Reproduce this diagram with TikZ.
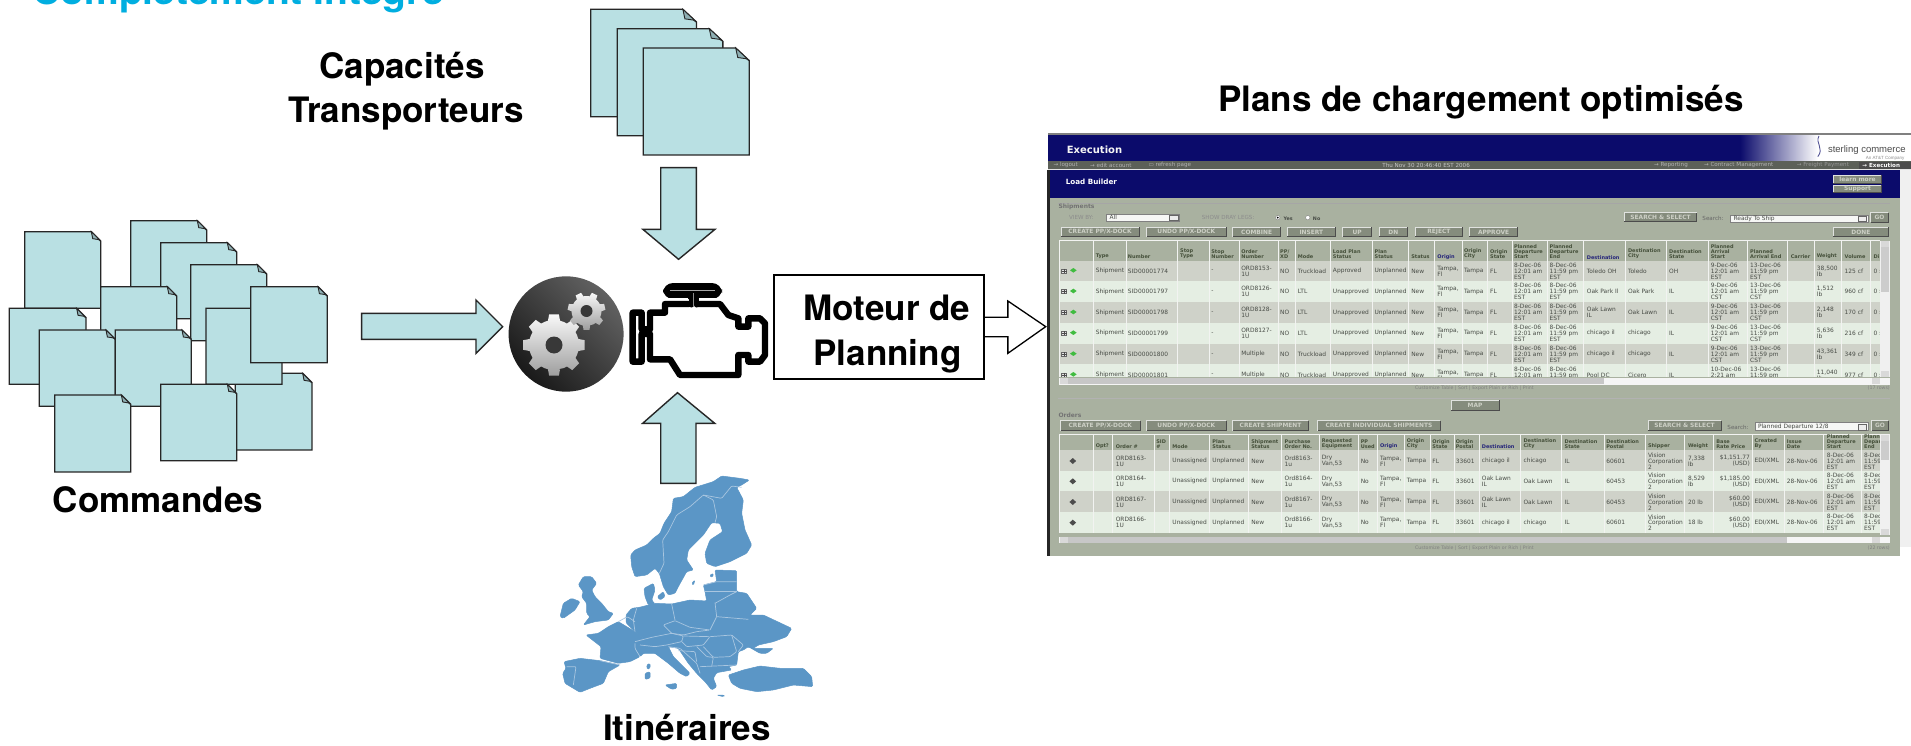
\documentclass[tikz,border=0pt]{standalone}
\usepackage{fontspec}
\setmainfont{TeX Gyre Heros}
\newfontfamily\cellfam{DejaVu Sans}
\newfontfamily\logofam{Liberation Sans}
\definecolor{sheetfill}{HTML}{B9E0E3}
\definecolor{foldfill}{HTML}{8FB0B4}
\definecolor{titleblue}{HTML}{00AEE0}
\definecolor{mapblue}{HTML}{5B96C6}
\definecolor{mapline}{HTML}{A9C6E0}
\definecolor{navy}{HTML}{0B0B6B}
\definecolor{barGray}{HTML}{5C6058}
\definecolor{bodyGray}{HTML}{A9B1A0}
\definecolor{rowA}{HTML}{CFD2C9}
\definecolor{rowB}{HTML}{E5EEE3}
\definecolor{btnGray}{HTML}{858C7D}
\definecolor{btnText}{HTML}{CDD0C6}
\definecolor{headOlive}{HTML}{45503A}
\definecolor{headBlue}{HTML}{25257A}
\definecolor{cellText}{HTML}{474B45}
\tikzset{
  zoomA/.style={shift={(0,200)},x=.33333pt,y=-.33333pt},
  zoomB/.style={shift={(490,0)},x=.35714pt,y=-.33333pt},
  zoomE/.style={shift={(620,290)},x=.33333pt,y=-.33333pt},
  zoomM/.style={shift={(540,400)},x=.33333pt,y=-.33333pt},
  zoomT/.style={shift={(1040,120)},x=.55556pt,y=-.33333pt},
  zoomU/.style={shift={(1040,380)},x=.55556pt,y=-.33333pt},
  sheet/.style={fill=sheetfill,draw=black!85,line width=1.3pt,line join=miter},
  sheetfold/.style={fill=foldfill,draw=black!85,line width=.9pt},
  blockarrow/.style={fill=sheetfill,draw=black!85,line width=1.4pt,line join=miter},
  bigtext/.style={font=\fontsize{35}{35}\bfseries\selectfont,anchor=base,inner sep=0pt,text=black},
  tcell/.style={font=\cellfam\fontsize{5.9}{5.9}\selectfont,text=cellText,anchor=west,align=left,inner sep=0pt},
  thead/.style={font=\cellfam\bfseries\fontsize{5}{5}\selectfont,text=headOlive,anchor=south west,align=left,inner sep=0pt},
  theadb/.style={font=\cellfam\bfseries\fontsize{5}{5}\selectfont,text=headBlue,anchor=south west,align=left,inner sep=0pt},
  uilabel/.style={font=\cellfam\fontsize{5.6}{5.6}\selectfont,text=#1,anchor=west,inner sep=0pt},
  uilabel/.default=barGray,
  engineline/.style={draw=black,line width=6.4pt,line join=round,line cap=round},
  mapshape/.style={fill=mapblue,draw=mapblue,line width=.5pt,line join=round,rounded corners=1.2pt},
  mapborder/.style={draw=mapline,line width=.7pt,line join=round,rounded corners=1pt}
}
\newcommand{\docsheet}[5]{% left, top, right, bottom, fold
  \draw[sheet] (#1,#2) -- (#3-#5,#2) -- (#3,#2+#5) -- (#3,#4) -- (#1,#4) -- cycle;
  \draw[sheetfold] (#3-#5,#2) -- (#3,#2+#5) -- (#3-.22*#5,#2+.85*#5) -- (#3-.85*#5,#2+.75*#5) -- cycle;
}
\newcommand{\cellsAt}[2]{\foreach \px/\txt in {#2} {\node[tcell,name=cell\px y#1] at (\px,#1) {\txt};}}
\newcommand{\headsAt}[3]{\foreach \px/\txt in {#3} {\node[#2,name=head\px y#1] at (\px,#1) {\txt};}}
\newcommand{\uibutton}[6][]{% [text] name l t r b
  \fill[btnGray] (#3,#4) rectangle (#5,#6);
  \draw[white!75!btnGray,line width=.6pt] (#3,#6) -- (#3,#4) -- (#5,#4);
  \draw[black!70,line width=.8pt] (#3,#6) -- (#5,#6) -- (#5,#4);
  \node[font=\cellfam\bfseries\fontsize{5.9}{5.9}\selectfont,text=btnText,inner sep=0pt,name=#2] at ({(#3+#5)/2},{(#4+#6)/2}) {#1};
}
\newcommand{\geargear}[5]{% cx cy outer inner n
  \begin{scope}[shift={(#1,#2)}]
  \shade[top color=white!95!gray,bottom color=black!38] (90:#4)
   \foreach \k in {1,...,#5} { \pgfextra{\pgfmathsetmacro{\aa}{90+(\k-1)*360/#5}}
     -- (\aa-14:#4) -- (\aa-9:#3) -- (\aa+9:#3) -- (\aa+14:#4) -- (\aa+360/#5/2:#4) } -- cycle;
  \end{scope}
}
\begin{document}
\begin{tikzpicture}[x=1pt,y=-1pt]
\useasboundingbox (0,0) rectangle (1911,746);
\clip (0,0) rectangle (1911,746);
\fill[white] (0,0) rectangle (1911,746);

% ---------- titles
\node[font=\fontsize{39}{39}\bfseries\selectfont,text=titleblue,anchor=base west,inner sep=0pt,name=title] at (32,5) {Complètement Intégré};
\node[bigtext,name=capa] at (402,79) {Capacités};
\node[bigtext,name=trans] at (406,123) {Transporteurs};
\node[bigtext,name=plans] at (1481,112) {Plans de chargement optimisés};
\node[bigtext,name=comm] at (158,512) {Commandes};
\node[bigtext,name=itin] at (687,740) {Itinéraires};

% ---------- orders pile
\begin{scope}[zoomA]
\docsheet{74}{95}{302}{325}{28}
\docsheet{392}{62}{620}{290}{28}
\docsheet{482}{128}{710}{356}{28}
\docsheet{572}{194}{800}{422}{28}
\docsheet{302}{260}{530}{490}{28}
\docsheet{28}{325}{258}{553}{28}
\docsheet{706}{520}{936}{750}{28}
\docsheet{618}{325}{846}{553}{1}
\docsheet{752}{260}{982}{488}{28}
\docsheet{118}{390}{346}{619}{28}
\docsheet{346}{390}{574}{619}{28}
\docsheet{164}{585}{392}{816}{28}
\docsheet{482}{553}{710}{782}{28}
\draw[blockarrow] (1085,340) -- (1428,340) -- (1428,300) -- (1508,380) -- (1428,460) -- (1428,418) -- (1085,418) -- cycle;
\end{scope}

% ---------- carrier pile, arrows, box
\begin{scope}[zoomB]
\docsheet{282}{28}{578}{350}{38}
\docsheet{356}{86}{652}{407}{38}
\docsheet{429}{144}{726}{465}{38}
\draw[blockarrow] (478,503) -- (578,503) -- (578,688) -- (630,688) -- (528,778) -- (428,688) -- (478,688) -- cycle;
\draw[fill=white,draw=black,line width=1.3pt] (1300,952) -- (1450,952) -- (1450,903) -- (1556,980) -- (1450,1060) -- (1450,1010) -- (1300,1010) -- cycle;
\draw[fill=white,draw=black,line width=1.8pt] (795,825) rectangle (1383,1137);
% gears circle
\shade[top color=black!62,bottom color=black!90,shading angle=-45] (213,1002) ellipse [x radius=161,y radius=173];
\end{scope}
\node[bigtext,name=moteur] at (887,320) {Moteur de};
\node[bigtext,name=planning] at (887.5,365) {Planning};
\draw[blockarrow] (677.5,392.7) -- (714.7,423.3) -- (696,423.3) -- (696,483.3) -- (660.7,483.3) -- (660.7,423.3) -- (642.7,423.3) -- cycle;

% gears
\geargear{554}{345}{31}{25}{8}
\geargear{586.5}{311}{19}{15}{7}
\fill[black!78] (554,345) circle (8.5);
\fill[black!78] (586.5,311) circle (6);

% ---------- engine icon
\begin{scope}[zoomE]
\fill[black,rounded corners=10pt] (129,-21) rectangle (306,27);
\draw[black!35,line width=.8pt] (150,0) -- (285,0);
\draw[engineline] (207,42) -- (135,42) -- (135,68) -- (90,68) -- (90,118) -- (65,118) -- (65,68) -- (38,68) -- (38,215) -- (65,215) -- (65,132) -- (90,132) -- (90,208) -- (150,208) -- (180,255) -- (355,255) -- (355,195) -- (385,195) -- (385,215) -- (420,215) -- (435,195) -- (435,100) -- (420,85) -- (385,85) -- (385,110) -- (355,110) -- (355,85) -- (325,75) -- (300,42) -- (232,42);
\fill[white] (142,25) rectangle (205,31);
\fill[white] (238,25) rectangle (295,31);
\draw[engineline,line width=5pt] (213,12) -- (213,45);
\draw[engineline,line width=5pt] (230,12) -- (230,45);
\draw[black!45,line width=.7pt] (221,10) -- (221,50);
\end{scope}

% ---------- map of Europe
\begin{scope}[zoomM]
\path[mapshape] (272,465) -- (285,450) -- (320,435) -- (340,415) -- (360,400) -- (372,370) -- (395,335) -- (400,295) -- (430,290) -- (465,262) -- (520,245) -- (545,228) -- (600,235) -- (628,240) -- (605,255) -- (590,262) -- (610,300) -- (605,340) -- (615,390) -- (635,435) -- (620,460) -- (570,485) -- (525,500) -- (500,490) -- (495,460) -- (510,420) -- (548,395) -- (540,370) -- (515,368) -- (490,405) -- (445,450) -- (440,480) -- (460,510) -- (440,515) -- (415,560) -- (405,580) -- (385,585) -- (370,560) -- (358,520) -- (345,505) -- (320,525) -- (285,530) -- (275,500) -- cycle;
\path[mapshape] (115,555) -- (130,530) -- (155,530) -- (170,550) -- (155,570) -- (165,590) -- (185,610) -- (205,635) -- (220,640) -- (205,660) -- (165,665) -- (130,675) -- (150,650) -- (140,640) -- (140,610) -- (125,590) -- (130,575) -- cycle;
\path[mapshape] (60,650) -- (70,610) -- (95,595) -- (120,605) -- (105,630) -- (70,655) -- cycle;
\path[mapshape] (312,565) -- (340,550) -- (345,570) -- (335,600) -- (345,612) -- (325,615) -- (315,590) -- cycle;
\path[mapshape] (352,590) -- (370,575) -- (375,590) -- (360,600) -- cycle;
\path[mapshape] (72,785) -- (120,775) -- (180,782) -- (240,795) -- (205,815) -- (190,850) -- (150,865) -- (120,877) -- (75,850) -- (68,820) -- (78,805) -- cycle;
\path[mapshape] (138,705) -- (175,700) -- (205,680) -- (235,665) -- (285,695) -- (310,715) -- (285,730) -- (285,745) -- (300,770) -- (270,785) -- (235,790) -- (180,775) -- (183,740) -- cycle;
\path[mapshape] (258,645) -- (275,625) -- (298,622) -- (345,610) -- (395,612) -- (450,600) -- (500,603) -- (495,575) -- (490,555) -- (530,545) -- (525,510) -- (590,512) -- (590,575) -- (620,580) -- (650,625) -- (630,645) -- (670,645) -- (755,685) -- (740,710) -- (700,725) -- (655,735) -- (640,745) -- (700,745) -- (680,760) -- (660,760) -- (625,740) -- (610,750) -- (595,755) -- (590,795) -- (565,800) -- (575,810) -- (530,818) -- (520,835) -- (530,860) -- (515,870) -- (495,845) -- (470,820) -- (445,790) -- (415,745) -- (385,740) -- (400,770) -- (450,820) -- (440,830) -- (420,820) -- (385,790) -- (345,760) -- (310,760) -- (300,770) -- (280,745) -- (285,730) -- (310,715) -- (285,695) -- (258,668) -- cycle;
\path[mapshape] (565,825) -- (610,810) -- (660,798) -- (720,805) -- (790,805) -- (815,830) -- (818,860) -- (760,855) -- (700,870) -- (650,875) -- (600,865) -- (575,850) -- cycle;
\path[mapshape] (315,820) -- (330,815) -- (330,835) -- (315,838) -- cycle;
\path[mapshape] (320,795) -- (330,790) -- (330,805) -- (322,808) -- cycle;
\path[mapshape] (375,855) -- (410,850) -- (410,865) -- (395,868) -- cycle;
\path[mapshape] (530,885) -- (555,886) -- (550,890) -- cycle;
\path[mapshape] (455,550) -- (465,540) -- (460,556) -- cycle;
\path[mapshape] (508,527) -- (520,520) -- (518,532) -- cycle;
\draw[mapborder] (358,520) -- (372,490) -- (368,420) -- (385,395) -- (410,345) -- (450,320) -- (490,285) -- (520,300) -- (530,350) -- (525,368);
\draw[mapborder] (490,285) -- (545,295) -- (575,258) -- (605,262);
\draw[mapborder] (395,612) -- (405,660);
\draw[mapborder] (525,608) -- (530,650) -- (510,690);
\draw[mapborder] (530,650) -- (625,658);
\draw[mapborder] (525,610) -- (570,585) -- (590,575);
\draw[mapborder] (495,575) -- (590,575);
\draw[mapborder] (490,555) -- (530,545) -- (590,545);
\draw[mapborder] (285,695) -- (280,660) -- (290,625);
\draw[mapborder] (370,675) -- (405,662) -- (450,682) -- (510,690) -- (470,695) -- (430,705) -- (395,700) -- cycle;
\draw[mapborder] (285,725) -- (335,712) -- (395,700) -- (430,708) -- (425,725) -- (380,735) -- (345,740) -- (300,735);
\draw[mapborder] (430,708) -- (510,710) -- (490,735) -- (440,740) -- (425,725);
\draw[mapborder] (510,710) -- (575,705) -- (590,755) -- (570,770) -- (520,772) -- (490,740);
\draw[mapborder] (575,705) -- (610,735) -- (595,755);
\draw[mapborder] (385,740) -- (420,745) -- (470,790) -- (480,820);
\draw[mapborder] (470,740) -- (500,770) -- (520,772) -- (515,800);
\draw[mapborder] (480,800) -- (590,795);
\draw[mapborder] (415,752) -- (465,755) -- (470,785);
\draw[mapborder] (180,782) -- (240,795);
\draw[mapborder] (80,800) -- (108,800) -- (100,855);
\draw[mapborder] (235,665) -- (262,650) -- (285,665);
\draw[mapborder] (300,770) -- (285,745) -- (285,730);
\end{scope}

% ---------- screenshot, upper part (crop coordinates)
\begin{scope}[zoomT]
\fill[gray] (15,40) rectangle (1568,46);
\fill[navy] (15,46) rectangle (1568,123);
\shade[left color=navy,right color=white] (1260,46) rectangle (1400,123);
\fill[white] (1400,46) rectangle (1568,123);
\fill[barGray] (15,123) rectangle (1568,148);
\fill[white!80!gray] (15,148) rectangle (1568,151);
\fill[navy] (15,151) rectangle (1548,233);
\fill[bodyGray] (15,233) rectangle (1548,1000);
\fill[white!88!gray] (1548,151) rectangle (1568,1000);
\fill[black!85] (13,151) rectangle (18,1000);
\node[font=\cellfam\bfseries\fontsize{10}{10}\selectfont,text=white!92!gray,anchor=west,inner sep=0pt,name=execu] at (48,90) {Execution};
\node[font=\logofam\fontsize{9.5}{9.5}\selectfont,text=black!70,anchor=west,inner sep=0pt,name=logo] at (1418,91) {sterling commerce};
\node[font=\logofam\fontsize{4.5}{4.5}\selectfont,text=black!45,anchor=east,inner sep=0pt,name=logob] at (1556,115) {An AT\&T Company};
\draw[navy!70!white,line width=.9pt] (1402,48) .. controls (1395,70) and (1412,85) .. (1400,110);
\node[uilabel=black!30,name=bar1] at (24,135) {→ logout};
\node[uilabel=black!30,name=bar2] at (90,135) {→ edit account};
\node[uilabel=black!30,name=bar3] at (195,135) {▭ refresh page};
\node[uilabel=black!22,name=bar4,anchor=center] at (695,135) {Thu Nov 30 20:46:40 EST 2006};
\node[uilabel=black!30,name=bar5] at (1105,135) {→ Reporting};
\node[uilabel=black!30,name=bar6] at (1195,135) {→ Contract Management};
\node[uilabel=black!40,name=bar7] at (1362,135) {→ Freight Payment};
\fill[black!70] (1475,127) rectangle (1568,146);
\node[font=\cellfam\bfseries\fontsize{5.6}{5.6}\selectfont,text=white,anchor=west,inner sep=0pt,name=bar8] at (1480,135) {→ Execution};
\node[font=\cellfam\bfseries\fontsize{7.2}{7.2}\selectfont,text=white,anchor=west,inner sep=0pt,name=loadb] at (46,184) {Load Builder};
\uibutton[learn more]{btnLearn}{1428}{165}{1515}{190}
\uibutton[Support]{btnSupport}{1428}{195}{1515}{218}
\draw[black!35,line width=.5pt] (33,250) -- (1530,250);
\node[uilabel=black!55,font=\cellfam\bfseries\fontsize{6}{6}\selectfont,name=shipm] at (33,260) {Shipments};
\node[uilabel=black!45,name=viewby] at (52,293) {VIEW BY:};
\draw[fill=white!90!bodyGray,draw=black!50,line width=.5pt] (120,283) rectangle (250,303);
\node[tcell,name=viewall] at (125,293) {All};
\draw[fill=white!85!gray,draw=black!60,line width=.4pt] (232,286) rectangle (248,301);
\node[uilabel=black!45,name=showdray] at (291,293) {SHOW DRAY LEGS:};
\draw[fill=white,draw=black!50,line width=.4pt] (428,293) circle (2.2pt);
\fill[black] (428,293) circle (1pt);
\node[tcell,name=yesl,font=\cellfam\bfseries\fontsize{4.8}{4.8}\selectfont] at (438,295) {Yes};
\draw[fill=white,draw=black!50,line width=.4pt] (482,293) circle (2.2pt);
\node[tcell,name=nol,font=\cellfam\bfseries\fontsize{4.8}{4.8}\selectfont] at (491,295) {No};
\uibutton[CREATE PP/X-DOCK]{b1}{38}{322}{178}{350}
\uibutton[UNDO PP/X-DOCK]{b2}{192}{322}{335}{350}
\uibutton[COMBINE]{b3}{347}{322}{433}{350}
\uibutton[INSERT]{b4}{445}{322}{532}{350}
\uibutton[UP]{b5}{545}{322}{597}{350}
\uibutton[DN]{b6}{610}{322}{662}{350}
\uibutton[REJECT]{b7}{675}{322}{761}{350}
\uibutton[APPROVE]{b8}{773}{322}{860}{350}
\uibutton[SEARCH \& SELECT]{b9}{1052}{278}{1182}{305}
\node[uilabel=black!60,name=srch1] at (1192,296) {Search:};
\draw[fill=white!90!bodyGray,draw=black!50,line width=.5pt] (1243,285) rectangle (1490,307);
\node[tcell,name=srchv1] at (1248,296) {Ready To Ship};
\draw[fill=white!85!gray,draw=black!60,line width=.4pt] (1472,288) rectangle (1488,305);
\uibutton[GO]{b10}{1495}{278}{1527}{307}
\uibutton[DONE]{b11}{1428}{322}{1527}{350}
% table
\fill[rowA] (35,422) rectangle (1512,484);
\fill[rowB] (35,484) rectangle (1512,546);
\fill[rowA] (35,546) rectangle (1512,609);
\fill[rowB] (35,609) rectangle (1512,671);
\fill[rowA] (35,671) rectangle (1512,733);
\fill[rowB] (35,733) rectangle (1512,771);
\foreach \cx in {35,95,155,247,305,358,428,460,522,598,663,710,760,805,850,913,978,1053,1128,1203,1273,1345,1393,1443,1495}
  \draw[white!85!bodyGray,line width=.5pt] (\cx,362) -- (\cx,771);
\draw[white!85!bodyGray,line width=.6pt] (35,362) -- (1512,362);
\begin{scope}
\clip (35,362) rectangle (1512,771);
\headsAt{417}{thead}{100/Type,158/Number,252/{Stop\\Type},308/{Stop\\Number},362/{Order\\Number},432/{PP/\\XD},464/Mode,527/{Load Plan\\Status},602/{Plan\\Status},668/Status,763/{Origin\\City},810/{Origin\\State},853/{Planned\\Departure\\Start},917/{Planned\\Departure\\End},1058/{Destination\\City},1132/{Destination\\State},1207/{Planned\\Arrival\\Start},1278/{Planned\\Arrival End},1351/Carrier,1398/Weight,1448/Volume,1500/Di}
\headsAt{418}{theadb}{715/Origin,984/Destination}
\cellsAt{453}{100/Shipment,158/SID00001774,308/-,362/{ORD8153-\\1U},432/NO,464/Truckload,527/Approved,602/Unplanned,668/New,715/{Tampa,\\Fl},763/Tampa,810/FL,853/{8-Dec-06\\12:01 am\\EST},917/{8-Dec-06\\11:59 pm\\EST},984/Toledo OH,1058/Toledo,1132/OH,1207/{9-Dec-06\\12:01 am\\EST},1278/{13-Dec-06\\11:59 pm\\EST},1398/{38,500\\lb},1448/125 cf,1500/0 :}
\cellsAt{515}{100/Shipment,158/SID00001797,308/-,362/{ORD8126-\\1U},432/NO,464/LTL,527/Unapproved,602/Unplanned,668/New,715/{Tampa,\\Fl},763/Tampa,810/FL,853/{8-Dec-06\\12:01 am\\EST},917/{8-Dec-06\\11:59 pm\\EST},984/Oak Park Il,1058/Oak Park,1132/IL,1207/{9-Dec-06\\12:01 am\\CST},1278/{13-Dec-06\\11:59 pm\\CST},1398/{1,512\\lb},1448/960 cf,1500/0 :}
\cellsAt{578}{100/Shipment,158/SID00001798,308/-,362/{ORD8128-\\1U},432/NO,464/LTL,527/Unapproved,602/Unplanned,668/New,715/{Tampa,\\Fl},763/Tampa,810/FL,853/{8-Dec-06\\12:01 am\\EST},917/{8-Dec-06\\11:59 pm\\EST},984/{Oak Lawn\\IL},1058/Oak Lawn,1132/IL,1207/{9-Dec-06\\12:01 am\\CST},1278/{13-Dec-06\\11:59 pm\\CST},1398/{2,148\\lb},1448/170 cf,1500/0 :}
\cellsAt{640}{100/Shipment,158/SID00001799,308/-,362/{ORD8127-\\1U},432/NO,464/LTL,527/Unapproved,602/Unplanned,668/New,715/{Tampa,\\Fl},763/Tampa,810/FL,853/{8-Dec-06\\12:01 am\\EST},917/{8-Dec-06\\11:59 pm\\EST},984/chicago il,1058/chicago,1132/IL,1207/{9-Dec-06\\12:01 am\\CST},1278/{13-Dec-06\\11:59 pm\\CST},1398/{5,636\\lb},1448/216 cf,1500/0 :}
\cellsAt{703}{100/Shipment,158/SID00001800,308/-,362/Multiple,432/NO,464/Truckload,527/Unapproved,602/Unplanned,668/New,715/{Tampa,\\Fl},763/Tampa,810/FL,853/{8-Dec-06\\12:01 am\\EST},917/{8-Dec-06\\11:59 pm\\EST},984/chicago il,1058/chicago,1132/IL,1207/{9-Dec-06\\12:01 am\\CST},1278/{13-Dec-06\\11:59 pm\\CST},1398/{43,361\\lb},1448/349 cf,1500/0 :}
\cellsAt{765}{100/Shipment,158/SID00001801,308/-,362/Multiple,432/NO,464/Truckload,527/Unapproved,602/Unplanned,668/New,715/{Tampa,\\Fl},763/Tampa,810/FL,853/{8-Dec-06\\12:01 am\\EST},917/{8-Dec-06\\11:59 pm\\EST},984/Pool DC,1058/Cicero,1132/IL,1207/{10-Dec-06\\2:21 am\\CST},1278/{13-Dec-06\\11:59 pm\\CST},1398/{11,040\\lb},1448/977 cf,1500/0 :}
\foreach \ry in {453,515,578,640,703,765} {
  \draw[black!60,fill=white!80!gray,line width=.4pt] (39,\ry-6) rectangle (48,\ry+6);
  \draw[black!70,line width=.4pt] (39,\ry) -- (48,\ry) (43.5,\ry-6) -- (43.5,\ry+6);
  \fill[green!65!black!75] (60,\ry-9) -- (66,\ry-2) -- (60,\ry+5) -- (54,\ry-2) -- cycle;
}
\end{scope}
% scrollbars
\fill[white!88!gray] (1512,362) rectangle (1530,771);
\fill[black!20] (1514,380) rectangle (1528,515);
\fill[black!15] (1514,364) rectangle (1528,380);
\fill[black!15] (1514,752) rectangle (1528,770);
\fill[white!92!gray] (35,773) rectangle (1530,795);
\fill[black!22] (50,775) rectangle (1015,793);
\fill[black!15] (36,775) rectangle (50,793);
\fill[black!15] (1497,775) rectangle (1512,793);
\node[uilabel=black!50,anchor=center,name=cust1,font=\cellfam\fontsize{4.7}{4.7}\selectfont] at (782,805) {Customize Table | Sort | Export Plain or Rich | Print};
\node[uilabel=black!50,anchor=east,name=rows1,font=\cellfam\fontsize{4.7}{4.7}\selectfont] at (1530,805) {(17 rows)};
\draw[black!30,line width=.5pt] (33,835) -- (1530,835);
\uibutton[MAP]{b12}{740}{840}{826}{870}
\node[uilabel=black!55,font=\cellfam\bfseries\fontsize{6}{6}\selectfont,name=orders] at (33,885) {Orders};
\end{scope}

% ---------- screenshot, lower part
\begin{scope}[zoomU]
\fill[bodyGray] (15,118) rectangle (1548,527);
\fill[black!85] (13,118) rectangle (18,527);
\fill[white!88!gray] (1548,118) rectangle (1568,500);
\fill[white] (1548,500) rectangle (1568,560);
\uibutton[CREATE PP/X-DOCK]{c1}{37}{122}{180}{152}
\uibutton[UNDO PP/X-DOCK]{c2}{192}{122}{335}{152}
\uibutton[CREATE SHIPMENT]{c3}{347}{122}{483}{152}
\uibutton[CREATE INDIVIDUAL SHIPMENTS]{c4}{500}{122}{720}{152}
\uibutton[SEARCH \& SELECT]{c5}{1094}{122}{1226}{150}
\node[uilabel=black!60,name=srch2] at (1237,141) {Search:};
\draw[fill=white!90!bodyGray,draw=black!50,line width=.5pt] (1287,128) rectangle (1490,152);
\node[tcell,name=srchv2] at (1292,141) {Planned Departure 12/8};
\draw[fill=white!85!gray,draw=black!60,line width=.4pt] (1472,132) rectangle (1488,150);
\uibutton[GO]{c6}{1497}{122}{1527}{152}
\fill[rowA] (35,210) rectangle (1512,272);
\fill[rowB] (35,272) rectangle (1512,334);
\fill[rowA] (35,334) rectangle (1512,397);
\fill[rowB] (35,397) rectangle (1512,459);
\foreach \cx in {35,95,130,205,233,305,375,435,503,573,607,655,702,745,790,865,938,1015,1090,1160,1212,1282,1340,1410,1478}
  \draw[white!85!bodyGray,line width=.5pt] (\cx,162) -- (\cx,459);
\draw[white!85!bodyGray,line width=.6pt] (35,162) -- (1512,162);
\begin{scope}
\clip (35,162) rectangle (1512,459);
\headsAt{206}{thead}{100/Opt?,136/Order \#,209/{SID\\\#},238/Mode,310/{Plan\\Status},380/{Shipment\\Status},440/{Purchase\\Order No.},507/{Requested\\Equipment},577/{PP\\Used},660/{Origin\\City},706/{Origin\\State},748/{Origin\\Postal},870/{Destination\\City},944/{Destination\\State},1019/{Destination\\Postal},1094/Shipper,1166/Weight,1217/{Base\\Rate Price},1286/{Created\\By},1344/{Issue\\Date},1416/{Planned\\Departure\\Start},1483/{Planned\\Depar\\End}}
\headsAt{207}{theadb}{612/Origin,795/Destination}
\cellsAt{243}{136/{ORD8163-\\1U},238/Unassigned,310/Unplanned,380/New,440/{Ord8163-\\1u},507/{Dry\\Van,53},577/No,612/{Tampa,\\Fl},660/Tampa,706/FL,748/33601,795/chicago il,870/chicago,944/IL,1019/60601,1094/{Vision\\Corporation\\2},1166/{7,338\\lb},1286/{EDI/XML},1344/28-Nov-06,1416/{8-Dec-06\\12:01 am\\EST},1483/{8-Dec\\11:59\\EST}}
\cellsAt{304}{136/{ORD8164-\\1U},238/Unassigned,310/Unplanned,380/New,440/{Ord8164-\\1u},507/{Dry\\Van,53},577/No,612/{Tampa,\\Fl},660/Tampa,706/FL,748/33601,795/{Oak Lawn\\IL},870/Oak Lawn,944/IL,1019/60453,1094/{Vision\\Corporation\\2},1166/{8,529\\lb},1286/{EDI/XML},1344/28-Nov-06,1416/{8-Dec-06\\12:01 am\\EST},1483/{8-Dec\\11:59\\EST}}
\cellsAt{366}{136/{ORD8167-\\1U},238/Unassigned,310/Unplanned,380/New,440/{Ord8167-\\1u},507/{Dry\\Van,53},577/No,612/{Tampa,\\Fl},660/Tampa,706/FL,748/33601,795/{Oak Lawn\\IL},870/Oak Lawn,944/IL,1019/60453,1094/{Vision\\Corporation\\2},1166/20 lb,1286/{EDI/XML},1344/28-Nov-06,1416/{8-Dec-06\\12:01 am\\EST},1483/{8-Dec\\11:59\\EST}}
\cellsAt{428}{136/{ORD8166-\\1U},238/Unassigned,310/Unplanned,380/New,440/{Ord8166-\\1u},507/{Dry\\Van,53},577/No,612/{Tampa,\\Fl},660/Tampa,706/FL,748/33601,795/chicago il,870/chicago,944/IL,1019/60601,1094/{Vision\\Corporation\\2},1166/18 lb,1286/{EDI/XML},1344/28-Nov-06,1416/{8-Dec-06\\12:01 am\\EST},1483/{8-Dec\\11:59\\EST}}
\foreach \ry/\pr in {243/{\$1,151.77},304/{\$1,185.00},366/{\$60.00},428/{\$60.00}} {
  \node[tcell,anchor=east,align=right,name=price\ry] at (1278,\ry) {\pr\\(USD)};
  \fill[black!70] (59,\ry-9) -- (65,\ry) -- (59,\ry+9) -- (53,\ry) -- cycle;
}
\end{scope}
\fill[white!88!gray] (1512,162) rectangle (1530,465);
\fill[black!20] (1514,182) rectangle (1528,240);
\fill[black!15] (1514,164) rectangle (1528,182);
\fill[black!15] (1514,448) rectangle (1528,464);
\fill[white!92!gray] (35,470) rectangle (1530,490);
\fill[black!22] (50,472) rectangle (1345,490);
\fill[black!15] (36,472) rectangle (50,490);
\fill[black!15] (1497,472) rectangle (1512,490);
\node[uilabel=black!50,anchor=center,name=cust2,font=\cellfam\fontsize{4.7}{4.7}\selectfont] at (782,505) {Customize Table | Sort | Export Plain or Rich | Print};
\node[uilabel=black!50,anchor=east,name=rows2,font=\cellfam\fontsize{4.7}{4.7}\selectfont] at (1530,505) {(22 rows)};
\end{scope}
\end{tikzpicture}
\end{document}
